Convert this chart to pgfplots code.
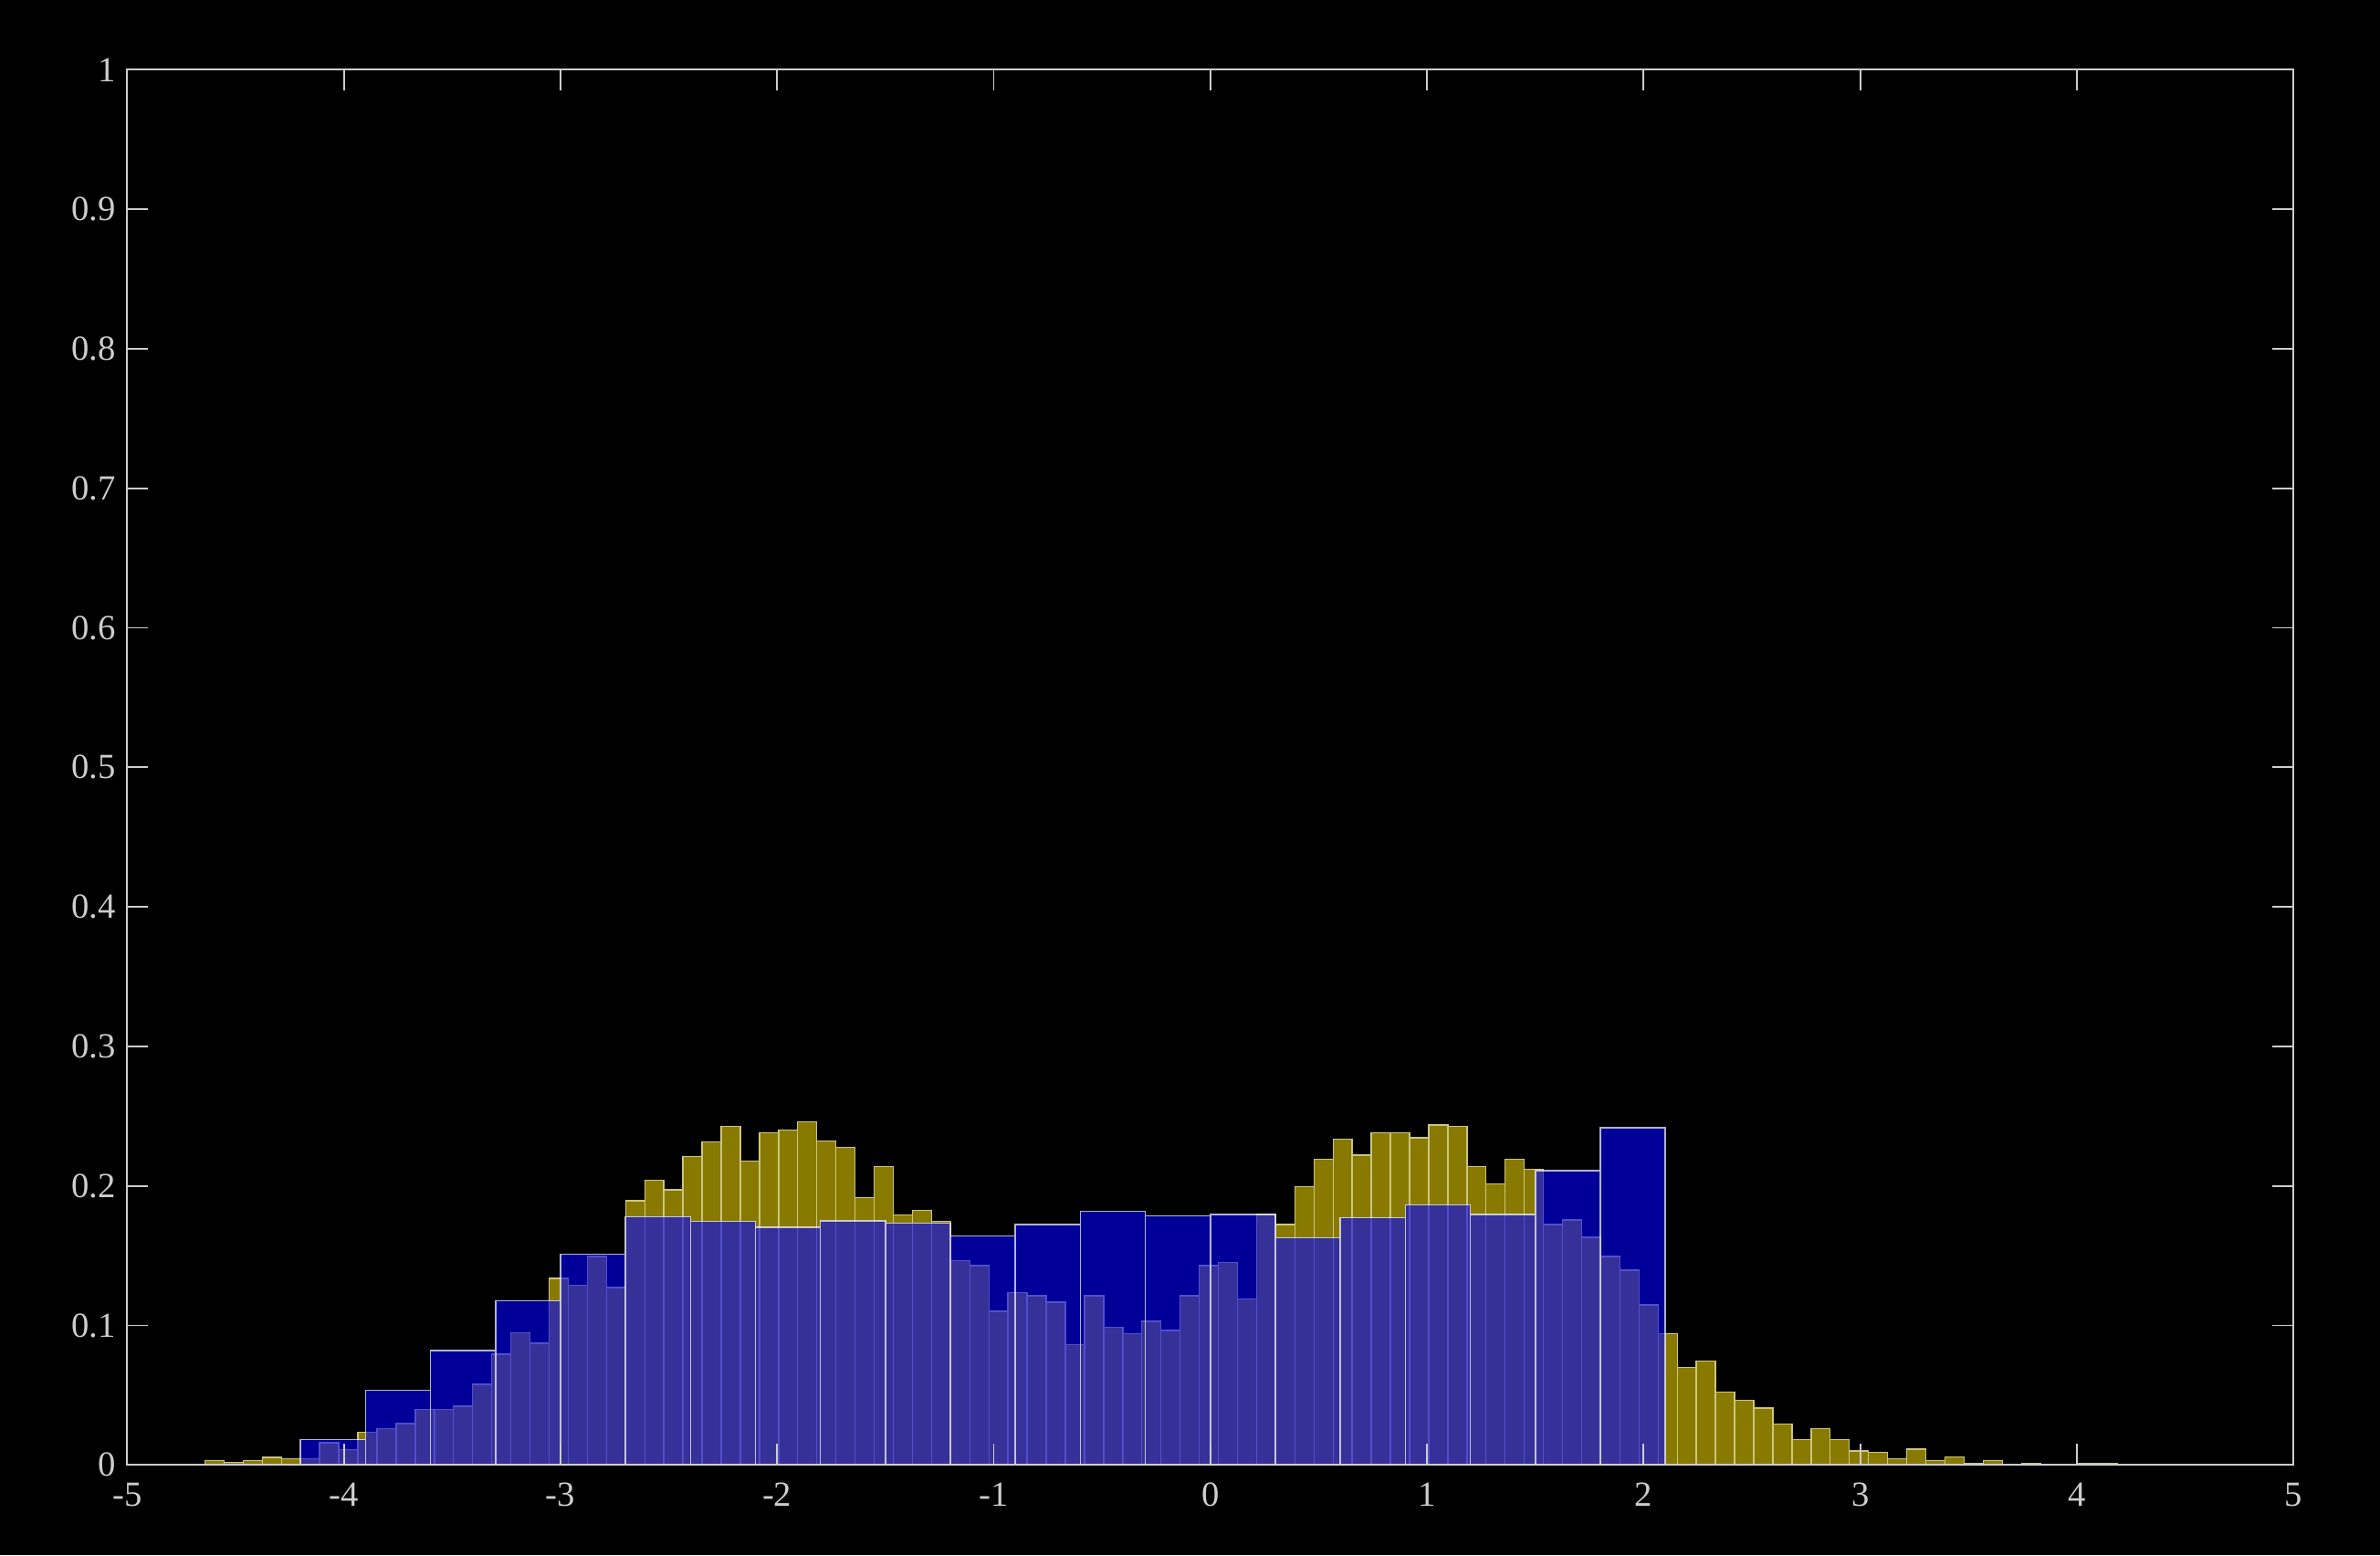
\documentclass[border=0pt]{standalone}
\usepackage{pgfplots}
\pgfplotsset{compat=1.18}
\usepackage{fontspec}
\setmainfont{Liberation Serif}
\definecolor{yel}{RGB}{136,122,0}
\definecolor{yedge}{RGB}{205,198,125}
\definecolor{bfill}{RGB}{0,0,255}
\definecolor{axcol}{RGB}{205,205,205}
\begin{document}
\begin{tikzpicture}
\fill[black] (-1.393cm,-0.987cm) rectangle (24.677cm,16.043cm);
\begin{axis}[
  anchor=south west, at={(0,0)},
  scale only axis, width=23.73cm, height=15.28cm,
  xmin=-5, xmax=5, ymin=0, ymax=1,
  axis on top,
  axis line style={axcol, line width=0.55pt},
  tick style={axcol, line width=0.55pt},
  major tick length=0.23cm,
  tick align=inside,
  xtick={-5,-4,-3,-2,-1,0,1,2,3,4,5},
  xticklabels={-5,-4,-3,-2,-1,0,1,2,3,4,5},
  ytick={0,0.1,0.2,0.3,0.4,0.5,0.6,0.7,0.8,0.9,1},
  yticklabels={0,0.1,0.2,0.3,0.4,0.5,0.6,0.7,0.8,0.9,1},
  tick label style={color=axcol, font=\fontsize{11}{13}\selectfont},
  xticklabel style={yshift=-0.07cm},
]
\addplot[ybar interval, fill=yel, draw=yedge, line width=0.4pt] coordinates {
(-4.6410,0.0033) (-4.5527,0.0019) (-4.4645,0.0033) (-4.3762,0.0054) (-4.2880,0.0043)
(-4.1997,0.0045) (-4.1114,0.0159) (-4.0232,0.0111) (-3.9349,0.0235) (-3.8467,0.0261)
(-3.7584,0.0296) (-3.6701,0.0397) (-3.5819,0.0397) (-3.4936,0.0421) (-3.4054,0.0578)
(-3.3171,0.0794) (-3.2288,0.0949) (-3.1406,0.0872) (-3.0523,0.1337) (-2.9641,0.1289)
(-2.8758,0.1494) (-2.7875,0.1272) (-2.6993,0.1893) (-2.6110,0.2039) (-2.5228,0.1972)
(-2.4345,0.2210) (-2.3462,0.2314) (-2.2580,0.2426) (-2.1697,0.2177) (-2.0815,0.2382)
(-1.9932,0.2402) (-1.9049,0.2461) (-1.8167,0.2323) (-1.7284,0.2277) (-1.6402,0.1917)
(-1.5519,0.2140) (-1.4636,0.1793) (-1.3754,0.1826) (-1.2871,0.1747) (-1.1989,0.1463)
(-1.1106,0.1429) (-1.0223,0.1101) (-0.9341,0.1235) (-0.8458,0.1213) (-0.7576,0.1167)
(-0.6693,0.0863) (-0.5810,0.1213) (-0.4928,0.0985) (-0.4045,0.0942) (-0.3163,0.1029)
(-0.2280,0.0964) (-0.1397,0.1213) (-0.0515,0.1429) (0.0368,0.1453) (0.1250,0.1191)
(0.2133,0.1795) (0.3016,0.1723) (0.3898,0.1996) (0.4781,0.2190) (0.5663,0.2336)
(0.6546,0.2220) (0.7429,0.2382) (0.8311,0.2382) (0.9194,0.2345) (1.0076,0.2436)
(1.0959,0.2426) (1.1842,0.2140) (1.2724,0.2016) (1.3607,0.2190) (1.4489,0.2118)
(1.5372,0.1723) (1.6255,0.1756) (1.7137,0.1631) (1.8020,0.1494) (1.8902,0.1396)
(1.9785,0.1147) (2.0668,0.0940) (2.1550,0.0700) (2.2433,0.0746) (2.3315,0.0521)
(2.4198,0.0464) (2.5081,0.0407) (2.5963,0.0294) (2.6846,0.0181) (2.7728,0.0260)
(2.8611,0.0181) (2.9494,0.0100) (3.0376,0.0091) (3.1259,0.0045) (3.2141,0.0113)
(3.3024,0.0032) (3.3907,0.0056) (3.4789,0.0013) (3.5672,0.0032) (3.6554,0)
(3.7437,0.0013) (3.8320,0) (3.9202,0) (4.0085,0.0010) (4.0967,0.0010)
(4.1850,0)
};
\addplot[ybar interval, fill=bfill, fill opacity=0.6, draw=white, draw opacity=0.7, line width=0.45pt] coordinates {
(-4.2,0.0181) (-3.9,0.0534) (-3.6,0.0820) (-3.3,0.1177) (-3.0,0.1511)
(-2.7,0.1780) (-2.4,0.1747) (-2.1,0.1702) (-1.8,0.1751) (-1.5,0.1734)
(-1.2,0.1642) (-0.9,0.1723) (-0.6,0.1819) (-0.3,0.1786) (0.0,0.1797)
(0.3,0.1629) (0.6,0.1771) (0.9,0.1865) (1.2,0.1795) (1.5,0.2111)
(1.8,0.2415) (2.1,0)
};
\end{axis}
\end{tikzpicture}
\end{document}
